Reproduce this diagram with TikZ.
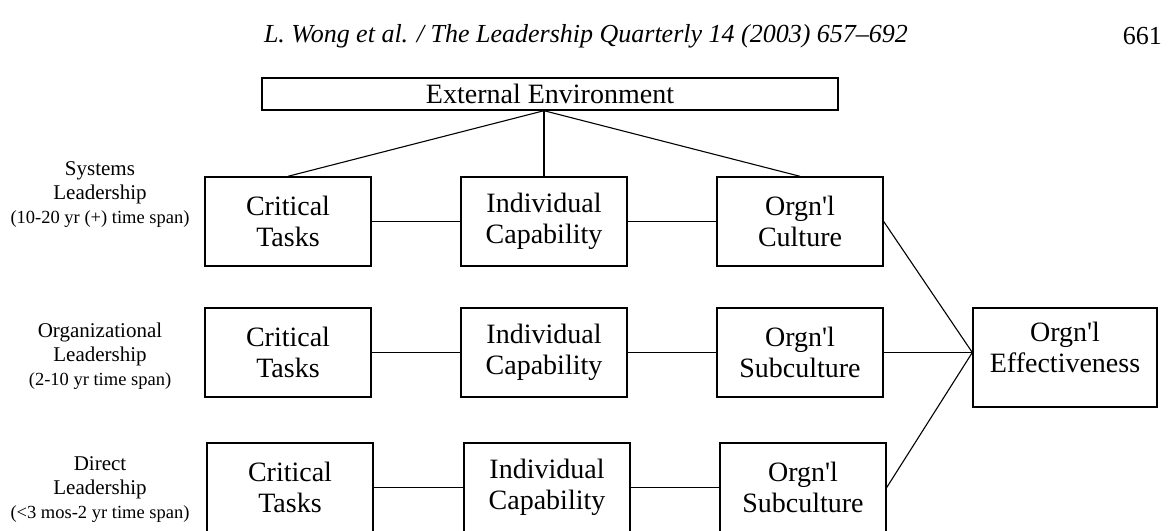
\documentclass[tikz,border=0pt]{standalone}
\usepackage{fontspec}
\setmainfont{Liberation Serif}
\newcommand{\apos}{\textquotesingle}
\newcommand{\labsmall}{\fontsize{18.5}{24}\selectfont}
\begin{document}
\begin{tikzpicture}[x=1pt,y=-1pt,
  box/.style={draw,line width=1.4pt,rectangle,minimum width=166pt,minimum height=89pt,inner sep=0pt,
    align=center,font=\fontsize{28}{31}\selectfont},
  boxtext/.style={align=center,inner sep=0pt,font=\fontsize{28}{31}\selectfont},
  conn/.style={line width=1.1pt},
  lab/.style={align=center,inner sep=0pt,font=\fontsize{21}{24}\selectfont}]
\useasboundingbox (0,0) rectangle (1172,530);
\node[font=\fontsize{26}{30}\selectfont\itshape,inner sep=0pt] (hdr) at (586,36) {L. Wong et al. / The Leadership Quarterly 14 (2003) 657--692};
\node[font=\fontsize{26}{30}\selectfont,inner sep=0pt,anchor=east] (pg) at (1162,36) {661};
\node[box,minimum width=576pt,minimum height=32pt] (ext) at (550,94) {External Environment};
\node[box] (ct1) at (288,221.5) {Critical\\Tasks};
\node[box] (ic1) at (544,221.5) {Individual\\Capability};
\node[box] (oc1) at (800,221.5) {Orgn\apos l\\Culture};
\node[box] (ct2) at (288,352.5) {Critical\\Tasks};
\node[box] (ic2) at (544,352.5) {Individual\\Capability};
\node[box] (os2) at (800,352.5) {Orgn\apos l\\Subculture};
\node[box] (ct3) at (290,487.5) {Critical\\Tasks};
\node[box] (ic3) at (547,487.5) {Individual\\Capability};
\node[box] (os3) at (803,487.5) {Orgn\apos l\\Subculture};
\node[box,minimum width=184pt,minimum height=99pt] (eff) at (1065,357.5) {};
\node[boxtext] (efft) at ([yshift=10pt]eff.center) {Orgn\apos l\\Effectiveness};
\node[lab] (l1) at (100,195) {Systems\\Leadership\\{\labsmall (10-20 yr (+) time span)}};
\node[lab] (l2) at (100,356) {Organizational\\Leadership\\{\labsmall (2-10 yr time span)}};
\node[lab] (l3) at (100,490) {Direct\\Leadership\\{\labsmall (<3 mos-2 yr time span)}};
\coordinate (apex) at (ic1.north |- ext.south);
\coordinate (conv) at (eff.west |- os2.east);
\draw[conn] (apex) -- (ct1.north);
\draw[conn] (apex) -- (ic1.north);
\draw[conn] (apex) -- (oc1.north);
\draw[conn] (ct1) -- (ic1);
\draw[conn] (ic1) -- (oc1);
\draw[conn] (ct2) -- (ic2);
\draw[conn] (ic2) -- (os2);
\draw[conn] (ct3) -- (ic3);
\draw[conn] (ic3) -- (os3);
\draw[conn] (oc1.east) -- (conv);
\draw[conn] (os2.east) -- (conv);
\draw[conn] (os3.east) -- (conv);
\end{tikzpicture}
\end{document}
